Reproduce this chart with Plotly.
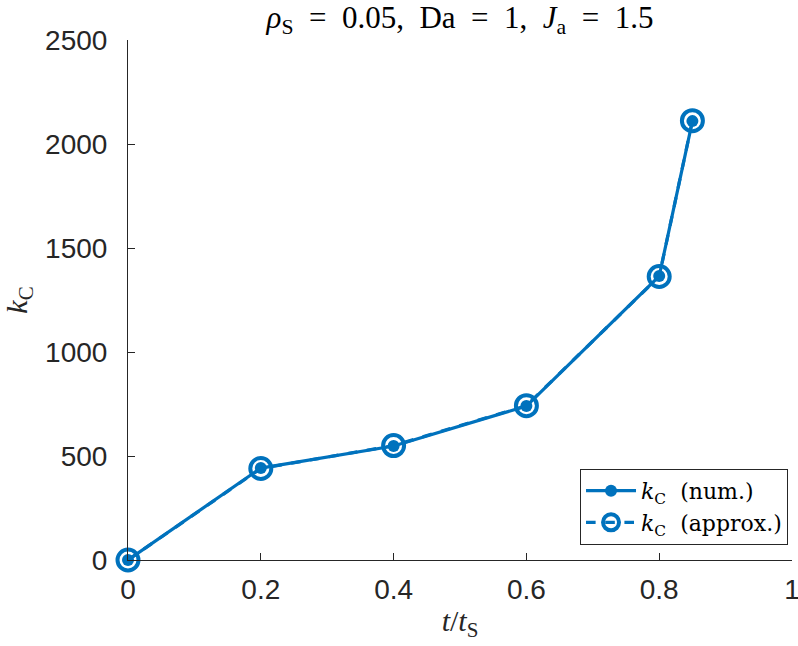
import plotly.graph_objects as go

t = [0, 0.2, 0.4, 0.6, 0.8, 0.85]
kc_num = [0, 442, 548, 740, 1365, 2110]
kc_approx = [0, 440, 550, 742, 1363, 2112]
xticks = [0, 0.2, 0.4, 0.6, 0.8, 1]
xticklabels = ["0", "0.2", "0.4", "0.6", "0.8", "1"]
yticks = [0, 500, 1000, 1500, 2000, 2500]
yticklabels = ["0", "500", "1000", "1500", "2000", "2500"]

blue = "#0072BD"
axc = "#262626"
serif = "Liberation Serif, DejaVu Serif, serif"
sans = "Liberation Sans, Arial, sans-serif"

fig = go.Figure()
fig.add_trace(go.Scatter(
    x=t, y=kc_num, mode="lines+markers",
    name="<i>k</i><sub>C</sub>  (num.)",
    line=dict(color=blue, width=3.2),
    marker=dict(symbol="circle", size=12, color=blue),
    cliponaxis=False,
))
fig.add_trace(go.Scatter(
    x=t, y=kc_approx, mode="lines+markers",
    name="<i>k</i><sub>C</sub>  (approx.)",
    line=dict(color=blue, width=3.2, dash="dash"),
    marker=dict(symbol="circle-open", size=21, color=blue, line=dict(width=4, color=blue)),
    cliponaxis=False,
))

fig.update_layout(
    width=798, height=646,
    margin=dict(l=128, r=6, t=40, b=86, autoexpand=False),
    paper_bgcolor="white", plot_bgcolor="white",
    title=dict(
        text="<i>ρ</i><sub>S</sub>  =  0.05,  Da  =  1,  <i>J</i><sub>a</sub>  =  1.5",
        x=(128 + 792) / 2 / 798, xanchor="center",
        y=1 - 17 / 646, yanchor="middle",
        font=dict(family=serif, size=31, color="black"),
    ),
    xaxis=dict(
        range=[0, 1], tickvals=xticks, ticktext=xticklabels, automargin=False,
        ticks="inside", ticklen=7, tickcolor=axc, tickwidth=1,
        showline=True, linecolor=axc, linewidth=1, showgrid=False, zeroline=False,
        tickfont=dict(family=sans, size=28, color=axc),
        ticklabeloverflow="allow", ticklabelstandoff=4,
        title=dict(text="<i>t</i>/<i>t</i><sub>S</sub>", font=dict(family=serif, size=30, color=axc), standoff=6),
    ),
    yaxis=dict(
        range=[0, 2500], tickvals=yticks, ticktext=yticklabels, automargin=False,
        ticks="inside", ticklen=7, tickcolor=axc, tickwidth=1,
        showline=True, linecolor=axc, linewidth=1, showgrid=False, zeroline=False,
        tickfont=dict(family=sans, size=28, color=axc),
        ticklabeloverflow="allow", ticklabelstandoff=14,
        title=dict(text="<i>k</i><sub>C</sub>", font=dict(family=serif, size=30, color=axc), standoff=8),
    ),
    legend=dict(
        x=0.994, xanchor="right", y=0.029, yanchor="bottom",
        bgcolor="white", bordercolor=axc, borderwidth=1,
        font=dict(family="DejaVu Serif, serif", size=22, color="black"),
        itemwidth=50, tracegroupgap=0,
    ),
    showlegend=True,
)

fig.write_html("out.html")
